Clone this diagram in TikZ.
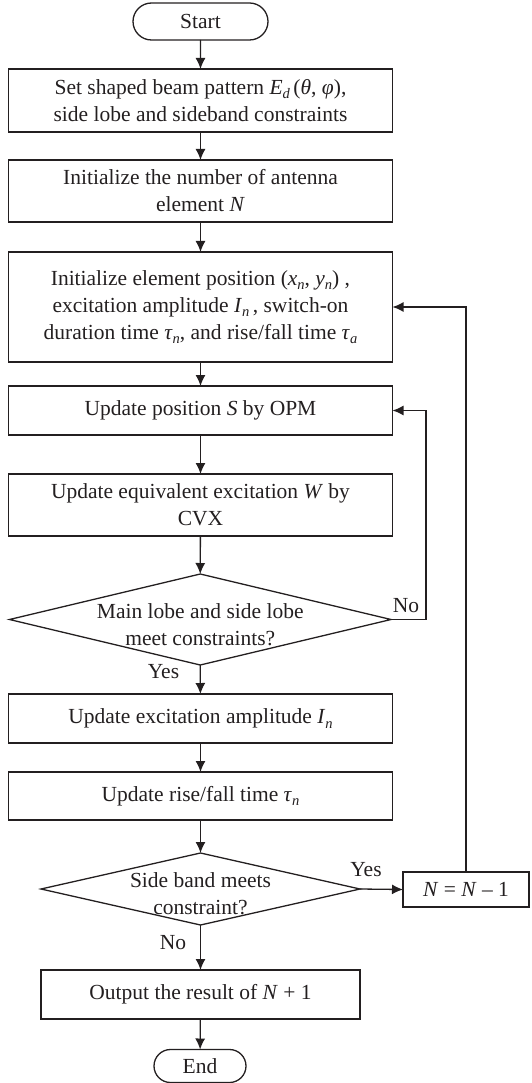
\documentclass[tikz,border=0pt]{standalone}
\usepackage{fontspec}
\setmainfont{Liberation Serif}
\usetikzlibrary{arrows.meta,shapes.misc}
\definecolor{ink}{HTML}{231F20}
% italic symbol and lowered italic index
\newcommand{\itv}[1]{\textit{#1}}
\newcommand{\lowi}[1]{\raisebox{-0.45ex}{\fontsize{14.5}{14.5}\selectfont\itshape #1}}
\begin{document}
\begin{tikzpicture}[x=1pt,y=-1pt,
  font=\fontsize{21.5}{27}\selectfont, text=ink,
  box/.style={draw=ink, line width=1.3pt, rectangle, minimum width=384pt, align=center, inner sep=0pt, outer sep=0pt},
  term/.style={draw=ink, line width=1.3pt, rounded rectangle, inner sep=0pt, outer sep=0pt},
  decision/.style={rectangle, inner sep=0pt, outer sep=0pt},
  rhomb/.style={draw=ink, line width=1.3pt, line join=miter},
  flow/.style={draw=ink, line width=1.3pt, -{Latex[length=11pt,width=10pt]}},
  lbl/.style={inner sep=0pt, align=center}]
\useasboundingbox (0,0) rectangle (531,1083);

\node[term, minimum width=135pt, minimum height=37pt] (start) at (200.5,21.5) {Start};
\node[box, minimum height=63pt] (b1) at (200.5,100.5)
  {Set shaped beam pattern \itv{E}\lowi{d}\,(\itv{θ}, \itv{φ}),\\side lobe and sideband constraints};
\node[box, minimum height=62pt] (b2) at (200.5,191)
  {Initialize the number of antenna\\element \itv{N}};
\node[box, minimum height=110pt] (b3) at (200.5,307)
  {Initialize element position (\itv{x}\lowi{n}, \itv{y}\lowi{n}) ,\\excitation amplitude \itv{I}\lowi{n}\,, switch-on\\duration time \itv{τ}\lowi{n}, and rise/fall time \itv{τ}\lowi{a}};
\node[box, minimum height=49pt] (b4) at (200.5,410.5)
  {Update position \itv{S} by OPM};
\node[box, minimum height=62pt] (b5) at (200.5,505)
  {Update equivalent excitation \itv{W} by\\CVX};

% first decision: rhombus spanned by its bounding box
\node[decision, minimum width=381.5pt, minimum height=91pt] (d1) at (200.25,619.5) {};
\draw[rhomb] (d1.north) -- (d1.east) -- (d1.south) -- (d1.west) -- cycle;
\node[lbl] (d1t) at (200.25,624.5) {Main lobe and side lobe\\meet constraints?};

\node[box, minimum height=49pt] (b6) at (200.5,718.5)
  {Update excitation amplitude \itv{I}\lowi{n}};
\node[box, minimum height=48pt] (b7) at (200.5,796)
  {Update rise/fall time \itv{τ}\lowi{n}};

% second decision
\node[decision, minimum width=319pt, minimum height=72pt] (d2) at (200.5,889) {};
\draw[rhomb] (d2.north) -- (d2.east) -- (d2.south) -- (d2.west) -- cycle;
\node[lbl] (d2t) at (200.5,894) {Side band meets\\constraint?};

\node[box, minimum width=126pt, minimum height=35pt] (nb) at (466,889.5)
  {\itv{N} = \itv{N} – 1};
\node[box, minimum width=319pt, minimum height=49pt] (out) at (200.5,994.5)
  {Output the result of \itv{N} + 1};
\node[term, minimum width=92pt, minimum height=33pt] (end) at (200,1066) {End};

% main sequence
\draw[flow] (start) -- (b1);
\draw[flow] (b1) -- (b2);
\draw[flow] (b2) -- (b3);
\draw[flow] (b3) -- (b4);
\draw[flow] (b4) -- (b5);
\draw[flow] (b5) -- (d1.north);
\draw[flow] (d1.south) -- (b6);
\draw[flow] (b6) -- (b7);
\draw[flow] (b7) -- (d2.north);
\draw[flow] (d2.south) -- (out);
\draw[flow] (out) -- (end);

% feedback loops
\draw[flow] (d1.east) -- ++(35,0) |- (b4.east);
\draw[flow] (d2.east) -- (nb.west);
\draw[flow] (nb.north) |- (b3.east);

% branch labels
\node[lbl] (no1) at (406,606) {No};
\node[lbl] (yes1) at (163.5,672) {Yes};
\node[lbl] (yes2) at (366,870) {Yes};
\node[lbl] (no2) at (173,943) {No};
\end{tikzpicture}
\end{document}
